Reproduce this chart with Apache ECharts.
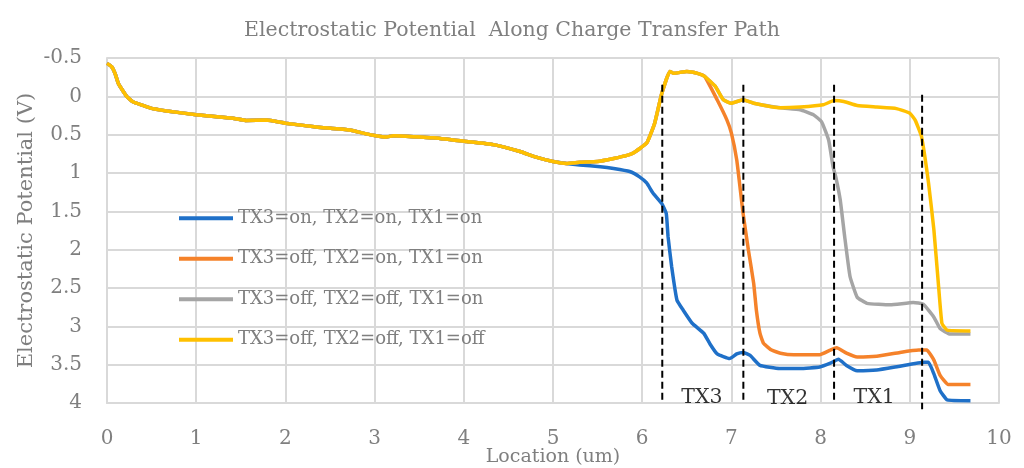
<!DOCTYPE html>
<html>
<head>
<meta charset="utf-8">
<script src="https://cdn.jsdelivr.net/npm/echarts@6/dist/echarts.min.js"></script>
<style>
html,body{margin:0;padding:0;background:#fff;}
#chart{width:1024px;height:468px;}
</style>
</head>
<body>
<div id="chart"></div>
<script>
const seriesNames = ['TX3=on, TX2=on, TX1=on', 'TX3=off, TX2=on, TX1=on', 'TX3=off, TX2=off, TX1=on', 'TX3=off, TX2=off, TX1=off'];
const seriesColors = ['#1f70c8', '#f5822a', '#a5a5a5', '#ffc000'];

// shared start of all curves
const commonX = [0, 0.05, 0.09, 0.13, 0.22, 0.29, 0.48, 0.67, 1.0, 1.41, 1.56, 1.79, 2.0, 2.35, 2.72, 2.91, 3.0, 3.13, 3.21, 3.66, 4.03, 4.33, 4.63, 4.8, 5.0, 5.15];
const commonY = [-0.43, -0.39, -0.3, -0.16, 0.0, 0.07, 0.15, 0.19, 0.24, 0.285, 0.315, 0.31, 0.35, 0.40, 0.44, 0.49, 0.51, 0.53, 0.515, 0.54, 0.59, 0.63, 0.72, 0.79, 0.85, 0.875];

// shared by TX3=off curves
const offX = [5.30, 5.50, 5.68, 5.83, 5.90, 6.05, 6.14, 6.22, 6.31, 6.35, 6.5, 6.62, 6.70];
const offY = [0.86, 0.85, 0.81, 0.77, 0.74, 0.61, 0.35, -0.04, -0.325, -0.30, -0.325, -0.30, -0.26];

// shared by TX2=off curves
const midX = [6.82, 6.91, 7.0, 7.13, 7.25, 7.55];
const midY = [-0.13, 0.045, 0.09, 0.045, 0.09, 0.15];

const blueX = [5.30, 5.53, 5.68, 5.86, 5.97, 6.05, 6.12, 6.22, 6.27, 6.29, 6.33, 6.39, 6.46, 6.56, 6.69, 6.76, 6.84, 6.98, 7.06, 7.13, 7.21, 7.32, 7.54, 7.77, 7.99, 8.11, 8.20, 8.29, 8.41, 8.63, 8.89, 9.16, 9.21, 9.27, 9.34, 9.42, 9.68];
const blueY = [0.895, 0.917, 0.94, 0.98, 1.05, 1.13, 1.26, 1.40, 1.53, 1.83, 2.22, 2.66, 2.79, 2.96, 3.09, 3.23, 3.36, 3.42, 3.36, 3.34, 3.38, 3.51, 3.55, 3.55, 3.53, 3.48, 3.43, 3.51, 3.58, 3.57, 3.52, 3.47, 3.47, 3.62, 3.84, 3.96, 3.97];

const orangeX = [6.84, 6.95, 7.0, 7.06, 7.10, 7.13, 7.19, 7.25, 7.28, 7.32, 7.36, 7.45, 7.55, 7.70, 7.99, 8.11, 8.18, 8.29, 8.41, 8.63, 8.89, 9.10, 9.19, 9.27, 9.34, 9.43, 9.68];
const orangeY = [0.045, 0.31, 0.48, 0.83, 1.22, 1.52, 2.0, 2.44, 2.79, 3.09, 3.22, 3.31, 3.35, 3.37, 3.37, 3.31, 3.28, 3.35, 3.40, 3.39, 3.34, 3.31, 3.31, 3.44, 3.64, 3.76, 3.76];

const grayX = [7.77, 7.92, 8.01, 8.09, 8.14, 8.17, 8.22, 8.27, 8.33, 8.41, 8.52, 8.78, 9.04, 9.15, 9.27, 9.34, 9.45, 9.68];
const grayY = [0.175, 0.24, 0.33, 0.57, 0.92, 1.05, 1.35, 1.83, 2.35, 2.62, 2.70, 2.72, 2.69, 2.71, 2.88, 3.03, 3.10, 3.10];

const yellowX = [7.77, 8.03, 8.15, 8.26, 8.41, 8.63, 8.85, 9.00, 9.06, 9.13, 9.21, 9.27, 9.32, 9.36, 9.42, 9.68];
const yellowY = [0.14, 0.11, 0.055, 0.067, 0.12, 0.14, 0.16, 0.22, 0.31, 0.52, 1.13, 1.74, 2.44, 2.96, 3.05, 3.06];

// gate boundary dashed lines
const gateX = [6.225, 7.134, 8.151, 9.138];
const gateTop = [-0.15, -0.15, -0.15, -0.02];
const gateBottom = [3.97, 3.97, 3.97, 4.08];

// gate labels
const gateLabels = ['TX3', 'TX2', 'TX1'];
const gateLabelX = [6.67, 7.63, 8.60];
const gateLabelY = [3.93, 3.95, 3.93];

const xTicks = {min: 0, max: 10, interval: 1};
const yTicks = {min: -0.5, max: 4, interval: 0.5};

function zip(xs, ys) { return xs.map((x, i) => [x, ys[i]]); }

const curves = [
  zip(commonX.concat(blueX), commonY.concat(blueY)),
  zip(commonX.concat(offX, orangeX), commonY.concat(offY, orangeY)),
  zip(commonX.concat(offX, midX, grayX), commonY.concat(offY, midY, grayY)),
  zip(commonX.concat(offX, midX, yellowX), commonY.concat(offY, midY, yellowY))
];

const FONT = 'DejaVu Serif';
const GRAYTXT = '#7f7f7f';

const series = curves.map((d, i) => ({
  name: seriesNames[i],
  type: 'line',
  data: d,
  showSymbol: false,
  smooth: 0.12,
  lineStyle: {width: 3.5, color: seriesColors[i]},
  itemStyle: {color: seriesColors[i]},
  z: 3 + i
}));

gateX.forEach((x, i) => {
  series.push({
    type: 'line',
    data: [[x, gateTop[i]], [x, gateBottom[i]]],
    showSymbol: false,
    clip: false,
    silent: true,
    lineStyle: {width: 2, color: '#000', type: [7, 4]},
    z: 10
  });
});

series.push({
  type: 'scatter',
  data: gateLabels.map((t, i) => [gateLabelX[i], gateLabelY[i], t]),
  symbolSize: 0,
  silent: true,
  clip: false,
  label: {
    show: true, position: 'inside',
    formatter: p => p.value[2],
    color: '#000', fontFamily: FONT, fontSize: 20.5
  },
  z: 11
});

const chart = echarts.init(document.getElementById('chart'), null, {renderer: 'canvas'});
chart.setOption({
  animation: false,
  backgroundColor: '#fff',
  title: {
    text: 'Electrostatic Potential  Along Charge Transfer Path',
    left: 'center', top: 15,
    textStyle: {fontFamily: FONT, fontSize: 20.5, fontWeight: 'normal', color: GRAYTXT}
  },
  grid: {left: 107, right: 25, top: 58, bottom: 65, containLabel: false, outerBoundsMode: 'none'},
  legend: {
    data: seriesNames,
    orient: 'vertical',
    left: 179, top: 208, padding: 0,
    itemWidth: 54, itemHeight: 4, itemGap: 20,
    icon: 'rect',
    textStyle: {fontFamily: FONT, fontSize: 18, color: GRAYTXT, lineHeight: 20.5}
  },
  xAxis: {
    type: 'value',
    min: xTicks.min, max: xTicks.max, interval: xTicks.interval,
    name: 'Location (um)', nameLocation: 'middle', nameGap: 45, nameMoveOverlap: false,
    nameTextStyle: {fontFamily: FONT, fontSize: 19, color: GRAYTXT},
    axisLine: {show: true, onZero: false, lineStyle: {color: '#d9d9d9', width: 2}},
    axisTick: {show: false},
    axisLabel: {fontFamily: FONT, fontSize: 20, color: GRAYTXT, margin: 26},
    splitLine: {show: true, lineStyle: {color: '#d9d9d9', width: 2}}
  },
  yAxis: {
    type: 'value', inverse: true,
    min: yTicks.min, max: yTicks.max, interval: yTicks.interval,
    name: 'Electrostatic Potential (V)', nameLocation: 'middle', nameGap: 70, nameMoveOverlap: false,
    nameTextStyle: {fontFamily: FONT, fontSize: 21, color: GRAYTXT},
    axisLine: {show: true, lineStyle: {color: '#d9d9d9', width: 2}},
    axisTick: {show: false},
    axisLabel: {fontFamily: FONT, fontSize: 20, color: GRAYTXT, margin: 25},
    splitLine: {show: true, lineStyle: {color: '#d9d9d9', width: 2}}
  },
  series: series
});
</script>
</body>
</html>
